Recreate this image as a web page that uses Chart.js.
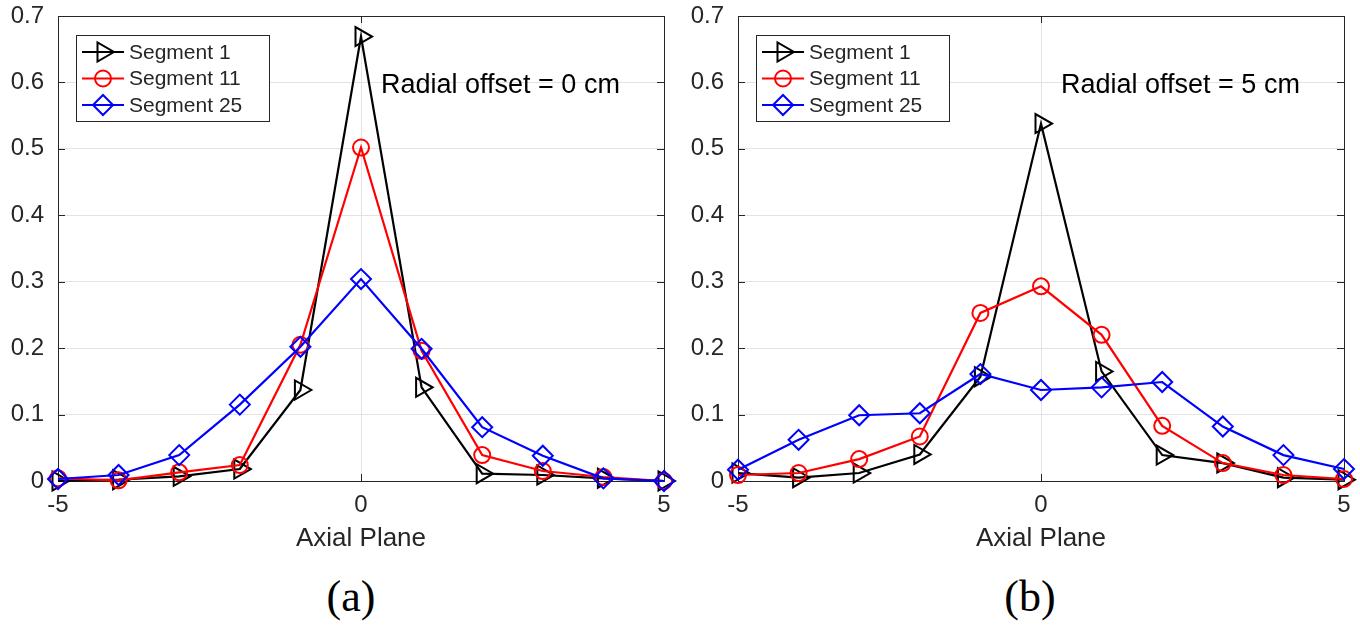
<!DOCTYPE html>
<html><head><meta charset="utf-8">
<script src="https://cdn.jsdelivr.net/npm/chart.js@4/dist/chart.umd.min.js"></script>
<style>
html,body{margin:0;padding:0;background:#fff;width:1360px;height:627px;overflow:hidden}
.panel{position:absolute;top:0;width:680px;height:565px}
.cap{position:absolute;top:572px;width:120px;text-align:center;font-family:"Liberation Serif","Times New Roman",serif;font-size:44px;line-height:50px;color:#000}
</style></head><body>
<div class="panel" style="left:0"><canvas id="ca"></canvas></div>
<div class="panel" style="left:680px"><canvas id="cb"></canvas></div>
<div class="cap" style="left:291px">(a)</div>
<div class="cap" style="left:970px">(b)</div>
<script>
const axialPlanes = [-5,-4,-3,-2,-1,0,1,2,3,4,5];
const xTickLabels = ['-5','0','5'];
const yTickLabels = ['0','0.1','0.2','0.3','0.4','0.5','0.6','0.7'];
const seriesNames = ['Segment 1','Segment 11','Segment 25'];
const xTitle = 'Axial Plane';
const notes = ['Radial offset = 0 cm','Radial offset = 5 cm'];

// panel (a): radial offset 0 cm
const seg1A  = [0.000,0.002,0.007,0.018,0.137,0.669,0.141,0.011,0.009,0.004,0.000];
const seg11A = [0.004,0.001,0.013,0.024,0.205,0.502,0.196,0.039,0.015,0.006,0.000];
const seg25A = [0.003,0.009,0.039,0.115,0.202,0.304,0.199,0.081,0.038,0.004,0.000];
// panel (b): radial offset 5 cm
const seg1B  = [0.012,0.005,0.012,0.040,0.157,0.538,0.165,0.039,0.027,0.005,0.002];
const seg11B = [0.009,0.012,0.033,0.067,0.253,0.293,0.220,0.083,0.027,0.009,0.003];
const seg25B = [0.017,0.062,0.099,0.102,0.161,0.137,0.141,0.149,0.082,0.039,0.018];

const colors = ['#000000','#ff0000','#0000ff'];
const styles = [
  {pointStyle:'triangle', rotation:90, radius:11},
  {pointStyle:'circle', rotation:0, radius:8},
  {pointStyle:'rectRot', rotation:0, radius:10}
];
const TXT = '#262626';
const FONT = '"Liberation Sans", Arial, sans-serif';

function drawMarker(ctx, style, x, y, r, rot){
  ctx.beginPath();
  if(style==='circle'){ ctx.arc(x,y,r,0,Math.PI*2); }
  else if(style==='triangle'){
    let rad = rot*Math.PI/180;
    for(let i=0;i<3;i++){
      const px = x+Math.sin(rad)*r, py = y-Math.cos(rad)*r;
      if(i===0) ctx.moveTo(px,py); else ctx.lineTo(px,py);
      rad += 2*Math.PI/3;
    }
    ctx.closePath();
  } else {
    ctx.moveTo(x-r,y); ctx.lineTo(x,y-r); ctx.lineTo(x+r,y); ctx.lineTo(x,y+r); ctx.closePath();
  }
  ctx.stroke();
}

const frame = {
  id:'frame',
  beforeDatasetsDraw(chart){
    const {ctx, chartArea:a, scales} = chart;
    ctx.save();
    ctx.strokeStyle = TXT; ctx.lineWidth = 1;
    ctx.strokeRect(Math.round(a.left)+0.5, Math.round(a.top)+0.5, Math.round(a.right-a.left), Math.round(a.bottom-a.top));
    const tl = 7;
    ctx.beginPath();
    scales.y.ticks.forEach(t=>{
      const py = Math.round(scales.y.getPixelForValue(t.value))+0.5;
      ctx.moveTo(a.left,py); ctx.lineTo(a.left+tl,py);
      ctx.moveTo(a.right,py); ctx.lineTo(a.right-tl,py);
    });
    scales.x.ticks.forEach(t=>{
      const px = Math.round(scales.x.getPixelForValue(t.value))+0.5;
      ctx.moveTo(px,a.bottom); ctx.lineTo(px,a.bottom-tl);
      ctx.moveTo(px,a.top); ctx.lineTo(px,a.top+tl);
    });
    ctx.stroke();
    ctx.restore();
  },
  afterDatasetsDraw(chart, args, opts){
    const {ctx, chartArea:a} = chart;
    ctx.save();
    // legend box
    const bx = a.left+18, by = a.top+19, bw = 193, bh = 86;
    ctx.fillStyle = '#fff';
    ctx.fillRect(bx,by,bw,bh);
    ctx.strokeStyle = TXT; ctx.lineWidth = 1;
    ctx.strokeRect(Math.round(bx)+0.5, Math.round(by)+0.5, bw, bh);
    chart.data.datasets.forEach((ds,i)=>{
      const cy = by + 17 + i*26.5;
      ctx.strokeStyle = ds.borderColor; ctx.lineWidth = 2;
      ctx.beginPath(); ctx.moveTo(bx+6,cy); ctx.lineTo(bx+48,cy); ctx.stroke();
      drawMarker(ctx, ds.pointStyle, bx+27, cy, ds.pointRadius, ds.pointRotation);
      ctx.fillStyle = TXT; ctx.font = '21px '+FONT; ctx.textBaseline='middle'; ctx.textAlign='left';
      ctx.fillText(ds.label, bx+53, cy+1);
    });
    // annotation
    ctx.fillStyle = '#000'; ctx.font = '27px '+FONT; ctx.textBaseline='alphabetic'; ctx.textAlign='left';
    ctx.fillText(opts.note, a.left+323, a.top+77);
    ctx.restore();
  }
};

function makeChart(id, series, note){
  const datasets = series.map((vals,i)=>({
    label: seriesNames[i],
    data: axialPlanes.map((x,k)=>({x, y: vals[k]})),
    borderColor: colors[i],
    backgroundColor: 'rgba(0,0,0,0)',
    borderWidth: 2.2,
    pointStyle: styles[i].pointStyle,
    pointRotation: styles[i].rotation,
    pointRadius: styles[i].radius,
    pointHoverRadius: styles[i].radius,
    pointBorderWidth: 2,
    pointBorderColor: colors[i],
    pointBackgroundColor: 'rgba(0,0,0,0)',
    tension: 0,
    clip: false,
    order: 2-i
  }));
  return new Chart(document.getElementById(id), {
    type:'line',
    data:{datasets},
    plugins:[frame],
    options:{
      responsive:true, maintainAspectRatio:false, animation:false,
      layout:{padding:{left:0,right:16,top:16,bottom:0}},
      plugins:{legend:{display:false}, tooltip:{enabled:false}, frame:{note}},
      scales:{
        x:{type:'linear', min:-5, max:5,
          ticks:{stepSize:5, color:TXT, font:{family:FONT,size:24}, padding:10, maxRotation:0,
            callback:(v,i)=>xTickLabels[i]},
          grid:{color:'#e3e3e3', drawTicks:false},
          border:{display:false},
          title:{display:true, text:xTitle, color:TXT, font:{family:FONT,size:26}, padding:{top:0,bottom:11}},
          afterFit:(s)=>{s.height = 84; s.paddingLeft = 0; s.paddingRight = 0;}
        },
        y:{type:'linear', min:0, max:0.7,
          ticks:{stepSize:0.1, color:TXT, font:{family:FONT,size:24}, padding:14,
            callback:(v,i)=>yTickLabels[i]},
          grid:{color:'#e3e3e3', drawTicks:false},
          border:{display:false},
          afterFit:(s)=>{s.width = 58; s.paddingTop = 0; s.paddingBottom = 0;}
        }
      }
    }
  });
}
makeChart('ca', [seg1A, seg11A, seg25A], notes[0]);
makeChart('cb', [seg1B, seg11B, seg25B], notes[1]);
</script>
</body></html>
